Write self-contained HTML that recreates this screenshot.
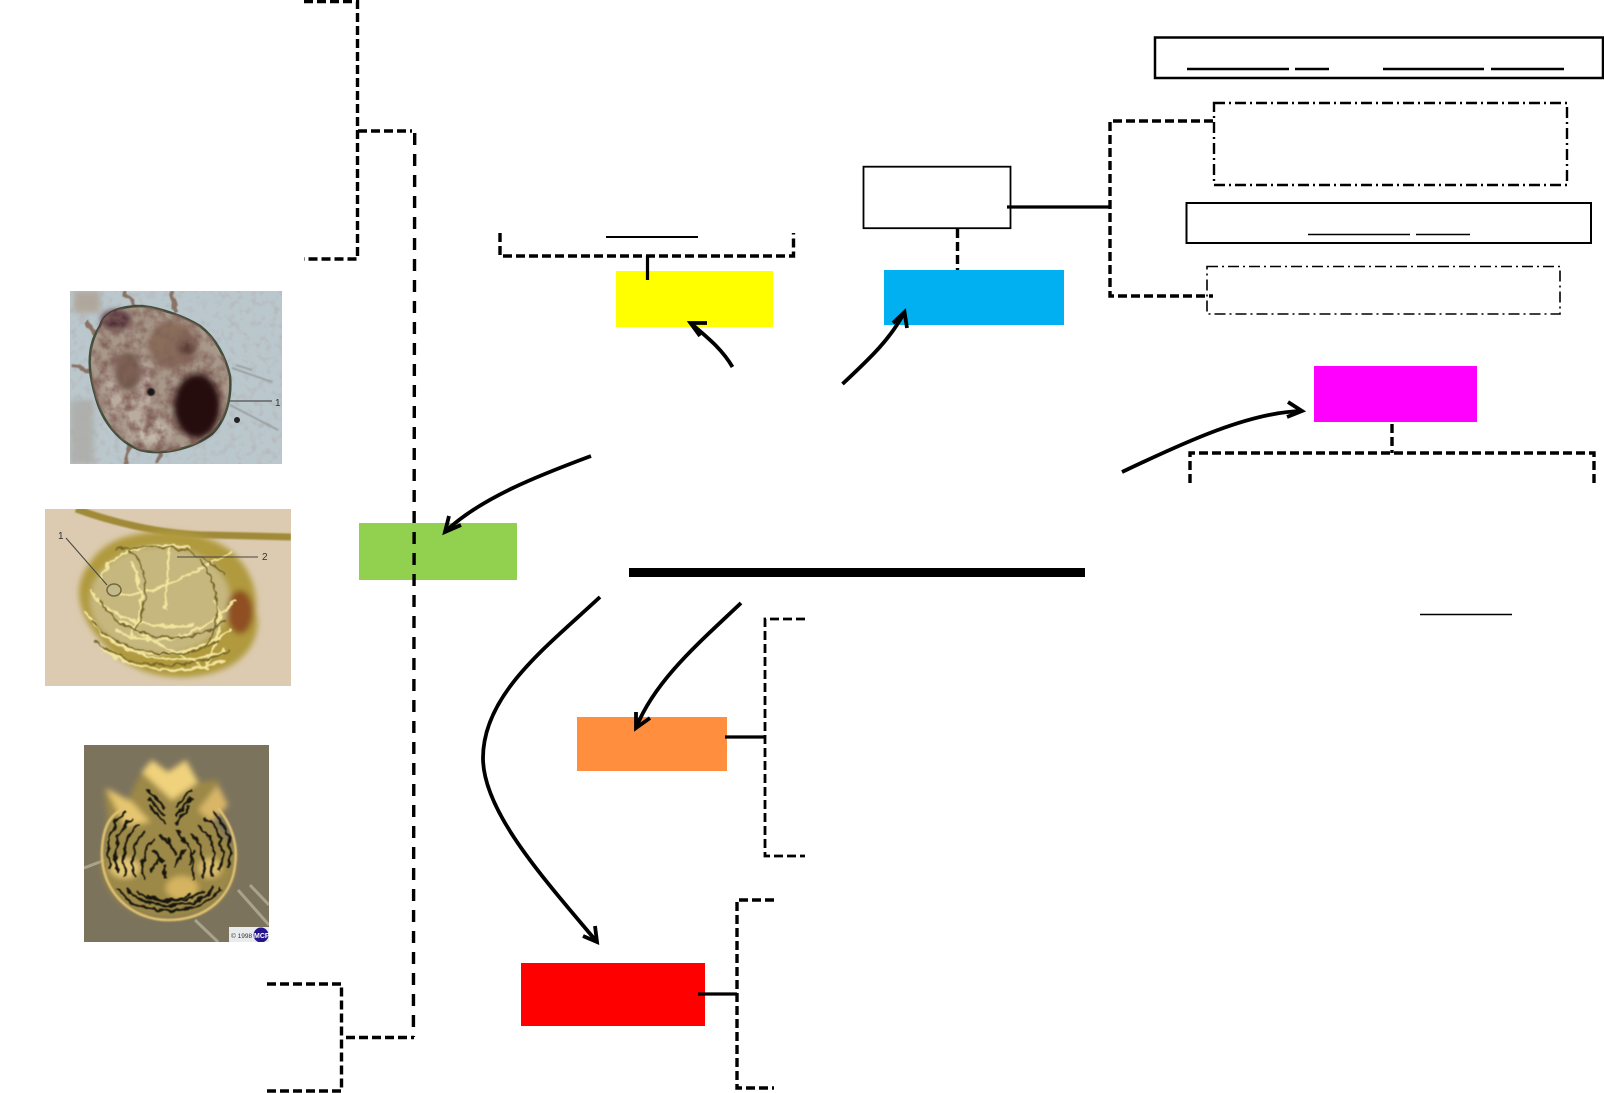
<!DOCTYPE html>
<html>
<head>
<meta charset="utf-8">
<style>
html,body{margin:0;padding:0;background:#fff;width:1604px;height:1093px;overflow:hidden}
svg{display:block}
</style>
</head>
<body>
<svg xmlns="http://www.w3.org/2000/svg" width="1604" height="1093" viewBox="0 0 1604 1093" font-family="'Liberation Sans',sans-serif">
<defs>
<clipPath id="c1"><rect x="70" y="291" width="212" height="173"/></clipPath>
<clipPath id="c2"><rect x="45" y="509" width="246" height="177"/></clipPath>
<clipPath id="c3"><rect x="84" y="745" width="185" height="197"/></clipPath>
<filter id="b1" x="-20%" y="-20%" width="140%" height="140%"><feGaussianBlur stdDeviation=".8"/></filter>
<filter id="b3" x="-30%" y="-30%" width="160%" height="160%"><feGaussianBlur stdDeviation="3"/></filter>
<filter id="m" x="0" y="0" width="100%" height="100%">
<feTurbulence type="fractalNoise" baseFrequency=".09" numOctaves="3" seed="3"/>
<feColorMatrix values="0 0 0 0 .22  0 0 0 0 .12  0 0 0 0 .1  2.200 0 0 0 -.75"/>
<feComposite in2="SourceAlpha" operator="in"/>
</filter>
<filter id="ms" x="0" y="0" width="100%" height="100%">
<feTurbulence type="fractalNoise" baseFrequency=".14" numOctaves="2" seed="8"/>
<feColorMatrix values="0 0 0 0 .45  0 0 0 0 .42  0 0 0 0 .42  3 0 0 0 -1.500"/>
<feComposite in2="SourceAlpha" operator="in"/>
</filter>
<filter id="d" x="-10%" y="-10%" width="120%" height="120%">
<feTurbulence type="fractalNoise" baseFrequency=".12" numOctaves="2" seed="5" result="n"/>
<feDisplacementMap in="SourceGraphic" in2="n" scale="7" xChannelSelector="R" yChannelSelector="G"/>
<feGaussianBlur stdDeviation=".45"/>
</filter>
</defs>

<!-- micrograph 1 -->
<g clip-path="url(#c1)">
<rect x="70" y="291" width="212" height="173" fill="#bac7cd"/>
<rect x="70" y="291" width="212" height="173" fill="#fff" filter="url(#ms)" opacity=".55"/>
<g filter="url(#b3)">
<rect x="70" y="400" width="24" height="64" fill="#a9a6a0" opacity=".7"/>
<rect x="74" y="291" width="26" height="22" fill="#b0a79c"/>
</g>
<g fill="none" stroke="#8a7365" stroke-width="4" filter="url(#d)">
<path d="M72 365 L94 372M86 320 L102 345M124 291 L142 312M172 291 L176 314M130 445 L125 464M160 450 L158 464"/>
</g>
<path d="M232 368 L272 382M230 405 L278 430M236 365L252 370" stroke="#8b9290" stroke-width="1.300" fill="none" filter="url(#b1)"/>
<path d="M100 326 C104 312 120 306 142 306 C160 308 184 316 200 326 C216 338 226 358 230 376 C232 398 226 420 212 434 C194 448 164 456 140 450 C118 442 102 420 96 398 C90 378 84 350 100 326Z" fill="#a8988a" stroke="#3f4d3a" stroke-width="2.500"/>
<g filter="url(#b3)">
<ellipse cx="130" cy="390" rx="24" ry="36" fill="#bbaca0"/>
<ellipse cx="172" cy="345" rx="24" ry="24" fill="#8a6e5a"/>
<ellipse cx="150" cy="432" rx="20" ry="12" fill="#c3b8ac"/>
<ellipse cx="128" cy="372" rx="14" ry="20" fill="#735a4c"/>
<ellipse cx="187" cy="347" rx="10" ry="9" fill="#5f4138"/>
<ellipse cx="116" cy="320" rx="15" ry="10" fill="#4f2e38"/>
</g>
<path d="M100 326 C104 312 120 306 142 306 C160 308 184 316 200 326 C216 338 226 358 230 376 C232 398 226 420 212 434 C194 448 164 456 140 450 C118 442 102 420 96 398 C90 378 84 350 100 326Z" fill="#000" filter="url(#m)"/>
<ellipse cx="197" cy="406" rx="23" ry="32" fill="#27100f" filter="url(#b3)"/>
<circle cx="151" cy="392" r="4" fill="#1c1418" filter="url(#b1)"/>
<circle cx="237" cy="420" r="3" fill="#222"/>
<line x1="230" y1="401" x2="272" y2="401" stroke="#333" stroke-width="1"/>
<text x="275" y="406" font-size="10" fill="#333">1</text>
</g>

<!-- micrograph 2 -->
<g clip-path="url(#c2)">
<rect x="45" y="509" width="246" height="177" fill="#dccbb0"/>
<path d="M76 509 C120 525 170 535 210 535 L291 537" fill="none" stroke="#a08a38" stroke-width="7" filter="url(#b1)"/>
<g filter="url(#b3)">
<path d="M122 538 C160 526 205 530 232 552 C250 568 258 590 256 612 C262 630 252 656 226 668 C190 684 140 680 110 650 C80 622 70 590 88 566 C96 552 106 544 122 538Z" fill="#b09a3e"/>
<ellipse cx="160" cy="600" rx="70" ry="54" fill="#c6b77e"/>
<ellipse cx="240" cy="612" rx="13" ry="22" fill="#8f4f22"/>
</g>
<g fill="none" stroke="#f2e69d" stroke-width="2.400" filter="url(#d)">
<path d="M100 580 C110 550 150 540 190 548M85 610 C110 660 180 670 225 650M95 625 C130 665 190 660 230 630M115 630 C150 650 200 640 235 600M100 645 C130 675 190 675 225 660"/>
<path d="M120 595 C150 595 180 580 232 552M170 545 L165 610M120 620 C150 640 170 650 210 670M215 600 C225 620 215 650 205 665M90 590 C110 620 150 630 195 625M130 560 C145 590 145 610 130 635"/>
</g>
<g fill="none" stroke="#75652a" stroke-width="1.500" filter="url(#d)">
<path d="M95 640 C130 672 190 672 230 650M100 600 C120 640 190 650 225 620M130 550 C150 570 150 600 135 630M200 560 C222 590 222 620 205 650M90 620 C120 655 180 665 220 640M115 550 C170 540 200 550 225 575"/>
</g>
<ellipse cx="114" cy="590" rx="7" ry="6" fill="#c4b98a" stroke="#6f6a3e" stroke-width="1.500"/>
<line x1="66" y1="538" x2="107" y2="585" stroke="#444" stroke-width="1"/>
<line x1="177" y1="557" x2="258" y2="557" stroke="#444" stroke-width="1"/>
<text x="58" y="539" font-size="10" fill="#333">1</text>
<text x="262" y="560" font-size="10" fill="#333">2</text>
</g>

<!-- micrograph 3 -->
<g clip-path="url(#c3)">
<rect x="84" y="745" width="185" height="197" fill="#7c735c"/>
<path d="M250 885 L269 905M238 890 L269 925M84 868 L105 860M195 920 L218 942" stroke="#a8a48c" stroke-width="3" fill="none"/>
<g filter="url(#b3)">
<path d="M140 775 L150 762 L168 775 L185 762 L198 782 L220 780 L205 810 L235 850 C238 890 215 918 168 918 C125 918 100 890 102 860 L108 820 L104 790 L128 800Z" fill="#9c8847"/>
<path d="M142 772 L152 760 L168 772 L186 760 L198 782 L172 800Z" fill="#f0d27c"/>
<path d="M106 788 L132 802 L150 822 L125 826Z" fill="#e6c670"/>
<path d="M218 785 L198 810 L212 822 L228 805Z" fill="#d8b666"/>
<ellipse cx="125" cy="868" rx="15" ry="10" fill="#e3c674"/>
<ellipse cx="210" cy="868" rx="12" ry="10" fill="#d8ba6a"/>
<ellipse cx="182" cy="888" rx="16" ry="12" fill="#d4b460"/>
</g>
<g fill="none" stroke="#14130f" stroke-width="2.300" filter="url(#d)">
<path d="M111 868 C104 845 112 822 126 812M118 872 C112 848 118 828 132 818M126 876 C120 853 126 834 140 824M135 878 C130 858 134 842 146 832M144 880 C140 862 144 848 154 840M228 868 C234 845 226 822 212 812M220 872 C226 848 220 828 206 818M211 876 C216 853 212 836 198 826M202 878 C206 858 202 842 190 834M193 880 C196 862 192 848 182 840"/>
<path d="M118 888 C135 918 200 918 222 888M126 888 C145 912 192 912 214 888M136 890 C152 906 186 906 204 890M146 894 C158 902 178 902 192 894"/>
<path d="M148 790 L165 808M148 798 L165 816M150 806 L166 824M192 790 L176 808M192 798 L176 816M190 806 L175 824"/>
<path d="M152 850 L164 862M168 838 L176 855M184 850 L175 868M150 872 L160 858M196 850 L188 864M160 835 L170 845M178 830 L186 842M165 865 L165 880"/>
</g>
<path d="M168 920 C130 920 100 890 102 850 C103 830 108 815 125 808M218 808 C232 825 238 845 235 865 C232 895 208 920 168 920" fill="none" stroke="#e2c472" stroke-width="2.500" filter="url(#b1)"/>
<rect x="229" y="927" width="40" height="15" fill="#e9ecec"/>
<circle cx="261" cy="935" r="7.500" fill="#26148c"/>
<text x="254" y="938" font-size="7" font-weight="bold" fill="#fff">MCP</text>
<text x="231" y="938" font-size="6.500" fill="#333">© 1998</text>
</g>

<!-- coloured blocks -->
<rect x="616" y="271" width="157" height="56" fill="#ffff00"/>
<rect x="884" y="270" width="180" height="55" fill="#00b0f0"/>
<rect x="1314" y="366" width="163" height="56" fill="#ff00ff"/>
<rect x="359" y="523" width="158" height="57" fill="#92d050"/>
<rect x="577" y="717" width="150" height="54" fill="#ff8f3f"/>
<rect x="521" y="963" width="184" height="63" fill="#ff0000"/>
<rect x="629" y="568" width="456" height="9" fill="#000"/>

<!-- boxes -->
<rect x="1155" y="37.500" width="448" height="40.500" fill="#fff" stroke="#000" stroke-width="2.500"/>
<rect x="1186.500" y="203" width="404.500" height="40" fill="#fff" stroke="#000" stroke-width="2"/>
<rect x="863.500" y="166.700" width="147" height="61.500" fill="#fff" stroke="#000" stroke-width="1.800"/>
<rect x="1214" y="103" width="353" height="82" fill="none" stroke="#000" stroke-width="2.400" stroke-dasharray="11 4 2 4"/>
<rect x="1207" y="266.500" width="353" height="47.500" fill="none" stroke="#000" stroke-width="1.600" stroke-dasharray="11 4 2 4"/>

<!-- underlines -->
<g stroke="#000" fill="none">
<path d="M1187 69H1289M1295 69H1329M1383 69H1484M1491 69H1564" stroke-width="2.400"/>
<path d="M1308 234.500H1410M1416 234.500H1470" stroke-width="1.500"/>
<path d="M606 237H698" stroke-width="2"/>
<path d="M1420 614.500H1512" stroke-width="1.500"/>
</g>

<!-- solid stubs -->
<g stroke="#000" fill="none" stroke-width="3.200">
<path d="M1007 207H1110"/>
<path d="M647.500 256V280"/>
<path d="M725 737H765"/>
<path d="M698 994H737"/>
</g>

<!-- dashed connectors -->
<g stroke="#000" fill="none" stroke-width="3.400" stroke-dasharray="9 4">
<path d="M304 1.500H357.500V259H304"/>
<path d="M358 131H412"/>
<path d="M267 984H341.500V1091H267"/>
<path d="M346 1037.500H414"/>
<path d="M1213 121H1110V296H1213"/>
<path d="M500 233V256H793.500V233"/>
<path d="M1190 483V453H1594V483"/>
<path d="M805 619H765V856H805" stroke-width="2.800"/>
<path d="M774 900H737V1088H774"/>
<path d="M957.500 229V270"/>
<path d="M1392 424V453"/>
</g>
<path d="M414.700 133L413.400 1037" stroke="#000" fill="none" stroke-width="3.400" stroke-dasharray="12 9"/>

<!-- arrows -->
<g stroke="#000" fill="none" stroke-width="3.800">
<path d="M732.500 367C722 349 708 338 690.500 323"/>
<path d="M707 323L690.500 323L700 336"/>
<path d="M842.500 384C868 360 890 340 904.500 312"/>
<path d="M893 323L904.500 312L907 328"/>
<path d="M591 456C540 475 480 498 445 532"/>
<path d="M449 516L445 532L461 525"/>
<path d="M1122 472C1185 442 1250 412 1302 411"/>
<path d="M1288 402L1302 411L1287 417"/>
<path d="M741 603C700 642 655 680 636 728"/>
<path d="M636 712L636 728L650 718"/>
<path d="M600 597C545 648 483 695 483 758C483 812 545 880 597 942"/>
<path d="M595 926L597 942L583 936"/>
</g>
</svg>
</body>
</html>
